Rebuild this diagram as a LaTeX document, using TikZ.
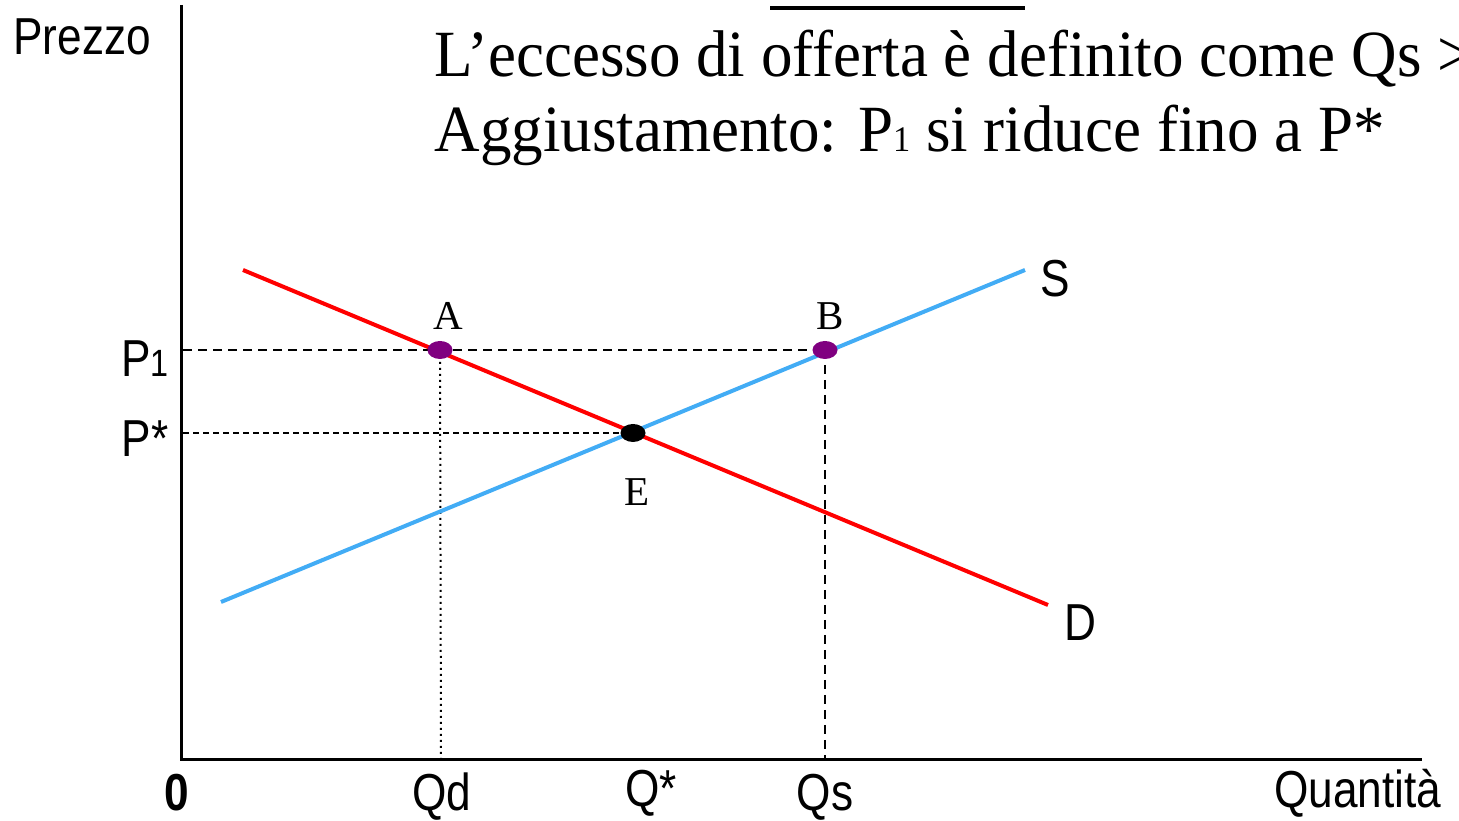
\documentclass[tikz,border=0pt]{standalone}
\usepackage{fontspec}
\setmainfont{Liberation Serif}
\setsansfont{Liberation Sans}
\usepackage{graphicx}
\definecolor{offerta}{RGB}{66,172,245}
\definecolor{viola}{RGB}{128,0,128}
\newcommand{\stretta}[1]{\scalebox{0.85}[1]{#1}}
\newcommand{\serif}[1]{\scalebox{0.955}[1]{#1}}
\newcommand{\piccolo}[1]{{\fontsize{36}{40}\selectfont #1}}

\begin{document}
\begin{tikzpicture}[x=1pt, y=1pt, line width=3pt]
  \tikzset{
    etichetta/.style={font=\sffamily\fontsize{52}{60}\selectfont, inner sep=0pt},
    lettera/.style={font=\fontsize{41}{48}\selectfont, inner sep=0pt},
    titolo/.style={font=\fontsize{66}{75}\selectfont, inner sep=0pt, anchor=base west},
    domanda/.style={red, line width=4pt},
    offertaS/.style={offerta, line width=4pt},
    guida/.style={line width=2pt, dash pattern=on 9pt off 6pt},
    guidafine/.style={line width=1.5pt, dash pattern=on 6pt off 4pt},
    punti/.style={line width=2pt, dash pattern=on 2pt off 4pt}
  }
  \useasboundingbox (0,0) rectangle (1459,821);
  \coordinate (O) at (181,61); \coordinate (Ytop) at (181,816); \coordinate (Xend) at (1422,61);
  \coordinate (A) at (440,471); \coordinate (B) at (825,471); \coordinate (E) at (633,388);
  \coordinate (P1) at (183,471); \coordinate (Ps) at (183,388);
  \coordinate (Qd) at (441,61); \coordinate (Qs) at (825,61);
  \coordinate (D0) at (243,551); \coordinate (D1) at (1048,216);
  \coordinate (S0) at (221,219); \coordinate (S1) at (1025,551);
  % assi
  \draw (Ytop) -- (O) -- (Xend);
  % linee guida
  \draw[guida] (P1) -- (B);
  \draw[guidafine] (Ps) -- (E);
  \draw[punti] (A) -- (Qd);
  \draw[guida] (B) -- (Qs);
  % domanda e offerta
  \draw[domanda] (D0) -- (D1);
  \draw[offertaS] (S0) -- (S1);
  \fill[viola] (A) ellipse [x radius=12.5, y radius=9];
  \fill[viola] (B) ellipse [x radius=12.5, y radius=9];
  \fill (E) ellipse [x radius=12.5, y radius=9];
  % riga tagliata in alto
  \draw[line width=4pt] (770,813) -- (1025,813);
  % testo
  \node[titolo] (riga1) at (433,744) {\serif{L’eccesso di offerta è definito come Qs >}};
  \node[titolo] (riga2) at (433,669) {\serif{Aggiustamento: P\piccolo{1} si riduce fino a P*}};
  % etichette
  \node[etichetta, anchor=base west] (prezzo) at (12,766) {\stretta{Prezzo}};
  \node[etichetta, anchor=base east] (lp1) at (170,444) {\stretta{P{\fontsize{38}{40}\selectfont 1}}};
  \node[etichetta, anchor=base east] (lps) at (170,364) {\stretta{P*}};
  \node[lettera, anchor=base] (la) at (448,491) {A};
  \node[lettera, anchor=base] (lb) at (830,491) {B};
  \node[lettera, anchor=base] (le) at (637,315) {E};
  \node[etichetta, anchor=base] (ls) at (1055,524) {\stretta{S}};
  \node[etichetta, anchor=base] (ld) at (1080,180) {\stretta{D}};
  \node[etichetta, anchor=base, font=\sffamily\bfseries\fontsize{52}{60}\selectfont] (l0) at (177,10) {\stretta{0}};
  \node[etichetta, anchor=base] (lqd) at (442,10) {\stretta{Qd}};
  \node[etichetta, anchor=base] (lqs0) at (651,14) {\stretta{Q*}};
  \node[etichetta, anchor=base] (lqs) at (825,10) {\stretta{Qs}};
  \node[etichetta, anchor=base east] (lquant) at (1443,13) {\stretta{Quantità}};
\end{tikzpicture}
\end{document}
